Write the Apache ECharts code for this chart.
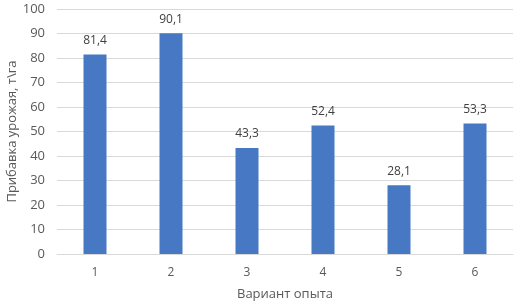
<!DOCTYPE html>
<html><head><meta charset="utf-8">
<script src="https://cdn.jsdelivr.net/npm/echarts@6/dist/echarts.min.js"></script>
<style>html,body{margin:0;padding:0;background:#fff}#c{width:523px;height:306px}</style>
</head><body><div id="c"></div>
<script>
const categories = ['1','2','3','4','5','6'];
const values = [81.4, 90.1, 43.3, 52.4, 28.1, 53.3];
const xTitle = 'Вариант опыта';
const yTitle = 'Прибавка урожая, т\\га';
const chart = echarts.init(document.getElementById('c'));
const font = '"Open Sans", sans-serif';
chart.setOption({
  animation: false,
  grid: {left: 57, right: 10, top: 9, bottom: 52, outerBoundsMode: 'none', containLabel: false},
  xAxis: {
    type: 'category', data: categories,
    name: xTitle, nameLocation: 'middle', nameGap: 34, nameMoveOverlap: false,
    nameTextStyle: {color: '#595959', fontSize: 13, fontFamily: font},
    axisLine: {lineStyle: {color: '#d9d9d9'}},
    axisTick: {show: false},
    axisLabel: {color: '#595959', fontSize: 12, fontFamily: font, margin: 13}
  },
  yAxis: {
    type: 'value', min: 0, max: 100, interval: 10,
    name: yTitle, nameLocation: 'middle', nameGap: 38, nameMoveOverlap: false,
    nameTextStyle: {color: '#595959', fontSize: 13, fontFamily: font},
    axisLine: {show: false}, axisTick: {show: false},
    splitLine: {lineStyle: {color: '#d9d9d9'}},
    axisLabel: {color: '#595959', fontSize: 13, fontFamily: font, margin: 12}
  },
  series: [{
    type: 'bar', data: values, barWidth: 23,
    itemStyle: {color: '#4678C4'},
    label: {show: true, position: 'top', distance: 8, color: '#404040', fontSize: 12, fontFamily: font,
      formatter: p => String(p.value).replace('.', ',')}
  }]
});
</script></body></html>
